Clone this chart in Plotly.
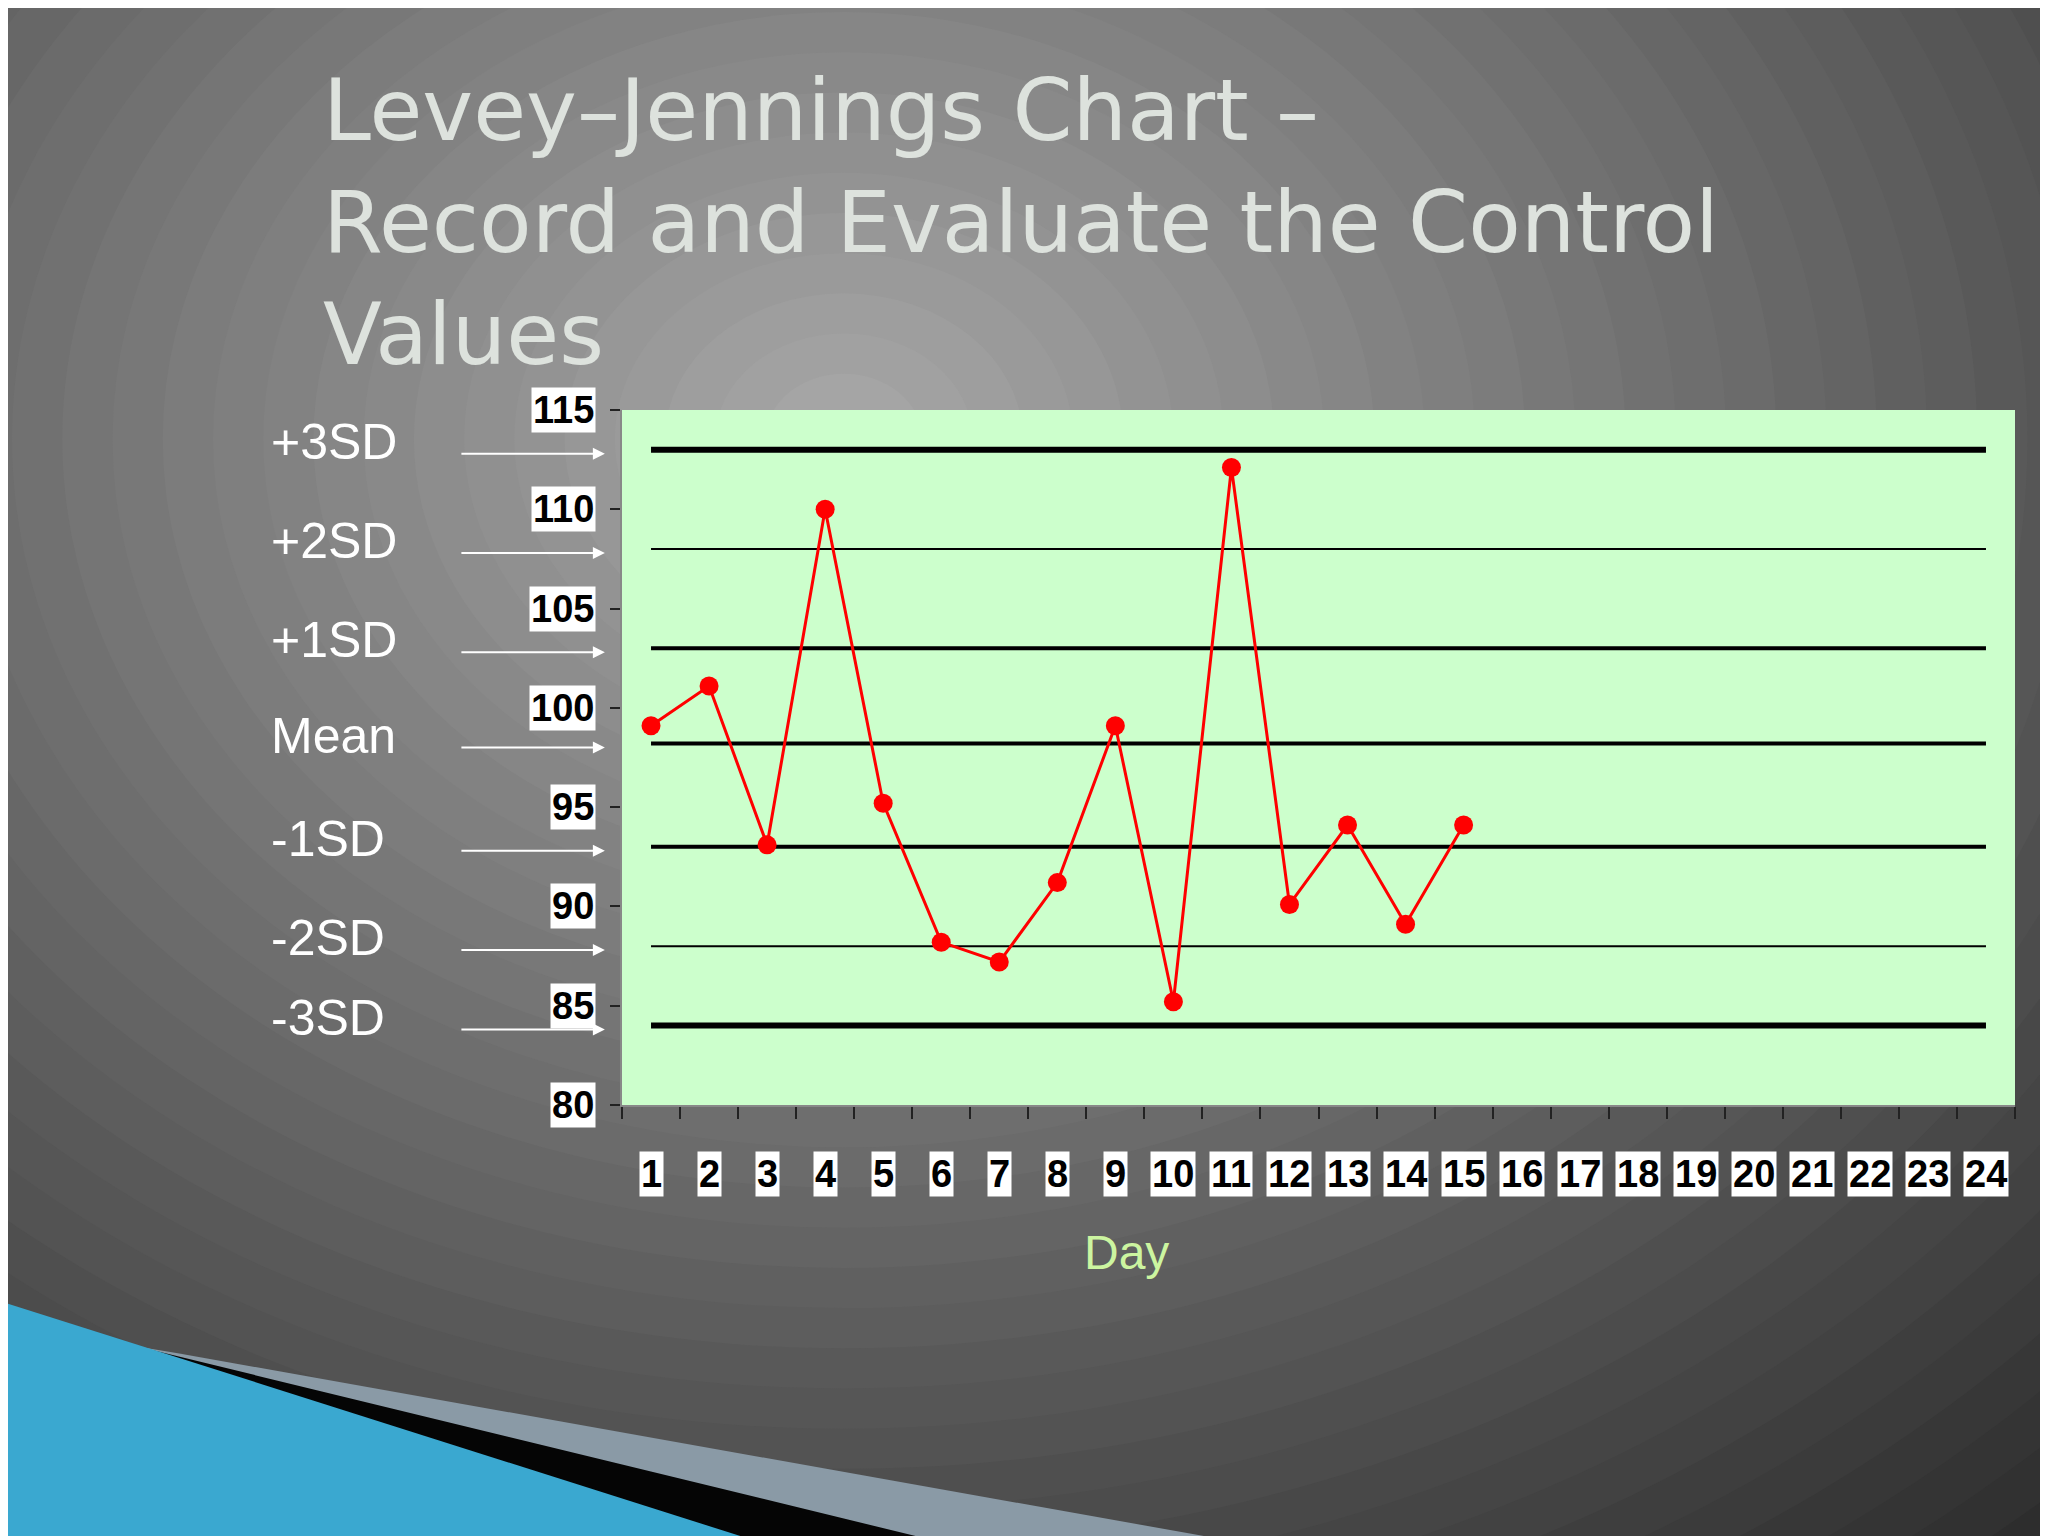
import plotly.graph_objects as go

days = list(range(1, 25))
obs_days = list(range(1, 16))
values = [99.1, 101.1, 93.1, 110.0, 95.2, 88.2, 87.2, 91.2, 99.1, 85.2, 112.1, 90.1, 94.1, 89.1, 94.1]
limit_names = ["+3SD", "+2SD", "+1SD", "Mean", "-1SD", "-2SD", "-3SD"]
limit_values = [113, 108, 103, 98.2, 93, 88, 84]
limit_widths = [6, 2, 4, 4, 4, 2, 6]
ytick_vals = [80, 85, 90, 95, 100, 105, 110, 115]

W, H = 2048, 1536
L, R, T, B = 614, 41, 402, 439
PW, PH = W - L - R, H - T - B
S = 2048 / 1568


def px(X, Y):
    Xf, Yf = X * S, Y * S
    return (Xf - L) / PW, (H - B - Yf) / PH


fig = go.Figure()
shapes = []
n = 40
for i in range(n):
    f = i / (n - 1)
    g = int(32 + (165 - 32) * f)
    rx, ry = 1500 * (1 - f) + 60, 1200 * (1 - f) + 50
    cx, cy = 640, 330
    x0, y0 = px(cx - rx, cy - ry)
    x1, y1 = px(cx + rx, cy + ry)
    shapes.append(dict(type="circle", xref="paper", yref="paper", x0=x0, y0=y0, x1=x1, y1=y1,
                       fillcolor=f"rgb({g},{g},{g})", line_width=0, layer="below"))


def poly(pts, color):
    p = []
    for k, (X, Y) in enumerate(pts):
        a, b = px(X, Y)
        p.append(("M" if k == 0 else "L") + f"{a},{b}")
    shapes.append(dict(type="path", xref="paper", yref="paper", path=" ".join(p) + " Z",
                       fillcolor=color, line_width=0, layer="below"))


poly([(130, 1030), (950, 1176), (640, 1176), (100, 1025)], "#8a9aa6")
poly([(0, 993), (100, 1025), (720, 1176), (560, 1176), (0, 1000)], "#050505")
poly([(0, 992), (580, 1176), (0, 1176)], "#3aa8d0")
shapes.append(dict(type="rect", xref="paper", yref="paper", x0=0, y0=0, x1=1, y1=1,
                   fillcolor="#ccffcc", line_width=0, layer="below"))
for v, w in zip(limit_values, limit_widths):
    shapes.append(dict(type="line", xref="x", yref="y", x0=days[0], x1=days[-1], y0=v, y1=v,
                       line=dict(color="black", width=w), layer="below"))

fig.add_trace(go.Scatter(x=obs_days, y=values, mode="lines+markers",
                         line=dict(color="#ff0000", width=3),
                         marker=dict(color="#ff0000", size=19, symbol="circle"),
                         showlegend=False))

LBL = "Liberation Sans, Arial"
ann = []
ann.append(dict(text="Levey–Jennings Chart –<br>Record and Evaluate the Control<br>Values",
                xref="paper", yref="paper", x=px(240, 0)[0], y=px(0, 38)[1],
                xanchor="left", yanchor="top", align="left", showarrow=False,
                font=dict(family="DejaVu Sans", size=86, color="#dde2dd")))
for nm, v in zip(limit_names, limit_values):
    ann.append(dict(text=nm, xref="paper", yref="y", x=px(200, 0)[0], y=v + 0.4,
                    xanchor="left", yanchor="middle", showarrow=False,
                    font=dict(family=LBL, size=50, color="white")))
    ann.append(dict(text="", xref="paper", yref="y", x=px(457, 0)[0], y=v - 0.2,
                    ax=-145, ay=0, showarrow=True, arrowhead=2, arrowsize=1.2,
                    arrowwidth=2, arrowcolor="white"))
for v in ytick_vals:
    ann.append(dict(text=f"<b>{v}</b>", xref="paper", yref="y", x=px(450, 0)[0], y=v,
                    xanchor="right", yanchor="middle", showarrow=False, bgcolor="white",
                    borderpad=1, font=dict(family=LBL, size=38, color="black")))
for d in days:
    ann.append(dict(text=f"<b>{d}</b>", xref="x", yref="paper", x=d, y=px(0, 893)[1],
                    xanchor="center", yanchor="middle", showarrow=False, bgcolor="white",
                    borderpad=1, font=dict(family=LBL, size=38, color="black")))
ann.append(dict(text="Day", xref="paper", yref="paper", x=px(822, 0)[0], y=px(0, 975)[1],
                showarrow=False, font=dict(family=LBL, size=48, color="#ccf5a0")))

fig.update_layout(width=W, height=H, margin=dict(l=L, r=R, t=T, b=B),
                  paper_bgcolor="#202020", plot_bgcolor="rgba(0,0,0,0)",
                  shapes=shapes, annotations=ann)
fig.update_xaxes(range=[0.5, 24.5], showgrid=False, zeroline=False, showticklabels=False,
                 showline=True, linecolor="#888888", linewidth=2,
                 ticks="outside", ticklen=0, tickvals=days,
                 minor=dict(tick0=0.5, dtick=1, ticks="outside", ticklen=12, tickcolor="#222", tickwidth=2))
fig.update_yaxes(range=[80, 115], showgrid=False, zeroline=False, showticklabels=False,
                 showline=True, linecolor="#888888", linewidth=2, tickvals=ytick_vals,
                 ticks="outside", ticklen=10, tickcolor="#222", tickwidth=2)
fig.write_html("out.html")
